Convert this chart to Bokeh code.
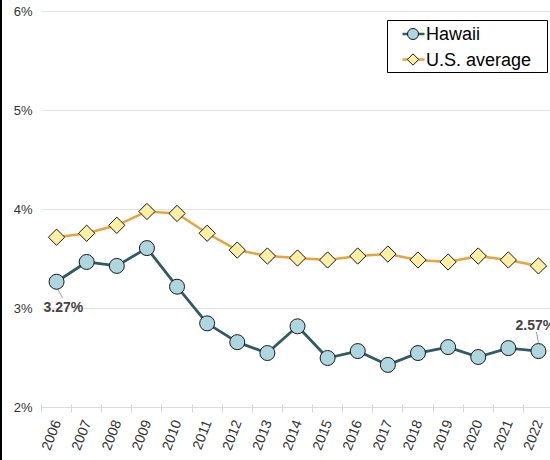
from bokeh.plotting import figure
from bokeh.models import (Range1d, FixedTicker, BoxAnnotation,
                          ColumnDataSource, PrintfTickFormatter)
from bokeh.core.properties import value
from bokeh.embed import file_html
from bokeh.resources import INLINE
import math

# ---------------- data ----------------
years = [str(y) for y in range(2006, 2023)]
hawaii = [3.27, 3.47, 3.43, 3.61, 3.22, 2.85, 2.66, 2.55, 2.82, 2.50, 2.57, 2.43,
          2.55, 2.61, 2.51, 2.60, 2.57]
us_avg = [3.72, 3.76, 3.84, 3.98, 3.96, 3.76, 3.59, 3.53, 3.51, 3.49, 3.53, 3.55,
          3.49, 3.47, 3.53, 3.49, 3.43]
y_ticks = [2, 3, 4, 5, 6]
series_names = ["Hawaii", "U.S. average"]
labeled_idx = [0, len(years) - 1]

# ---------------- style / layout constants ----------------
FONT = "Liberation Sans"
HI_LINE, HI_FILL = "#2f5b62", "#aed6df"
US_LINE, US_FILL = "#e8a33d", "#fdf0a5"
FRAME_L, FRAME_T, FRAME_B = 41, 8, 407
X_START, X_END = -0.5, 16.4
Y_START, Y_END = 2.0, 6.03
XS = (550 - FRAME_L) / (X_END - X_START)
YS = (FRAME_B - FRAME_T) / (Y_END - Y_START)


def px_x(px):
    return X_START + (px - FRAME_L) / XS


def px_y(py):
    return Y_END - (py - FRAME_T) / YS


xs = list(range(len(years)))
ROT = math.pi / 4
src = ColumnDataSource(dict(x=xs, hawaii=hawaii, us=us_avg, ang=[ROT] * len(years)))

p = figure(width=550, height=460, output_backend="svg", toolbar_location=None,
           x_range=Range1d(X_START, X_END), y_range=Range1d(Y_START, Y_END),
           min_border_left=FRAME_L, min_border_right=0, min_border_top=FRAME_T,
           min_border_bottom=460 - FRAME_B)
p.outline_line_color = None
p.background_fill_color = "white"
p.border_fill_color = "white"
p.border_fill_alpha = 0
p.styles = {"background": "linear-gradient(to right, #000 0px, #000 2px, #fff 2px)"}

# grid
p.xgrid.grid_line_color = None
p.ygrid.ticker = FixedTicker(ticks=y_ticks)
p.ygrid.grid_line_color = "#e3e3e3"
p.ygrid.grid_line_width = 1

# y axis
p.yaxis.ticker = FixedTicker(ticks=y_ticks)
p.yaxis.formatter = PrintfTickFormatter(format="%d%%")
p.yaxis.axis_line_color = None
p.yaxis.major_tick_line_color = None
p.yaxis.minor_tick_line_color = None
p.yaxis.major_tick_out = 0
p.yaxis.minor_tick_out = 0
p.yaxis.major_label_standoff = 9
p.yaxis.major_label_text_font = FONT
p.yaxis.major_label_text_font_size = "13px"
p.yaxis.major_label_text_color = "#333333"

# x axis
p.xaxis.ticker = FixedTicker(ticks=xs, minor_ticks=[i - 0.5 for i in range(len(years) + 1)])
p.xaxis.major_label_overrides = {i: y for i, y in enumerate(years)}
p.xaxis.axis_line_color = "#dcdcdc"
p.xaxis.major_tick_line_color = None
p.xaxis.major_tick_out = 0
p.xaxis.minor_tick_line_color = "#d6d6d6"
p.xaxis.minor_tick_in = 3
p.xaxis.minor_tick_out = 5
p.xaxis.major_label_orientation = 1.2
p.xaxis.major_label_standoff = 8
p.xaxis.major_label_text_font = FONT
p.xaxis.major_label_text_font_size = "14px"
p.xaxis.major_label_text_color = "#333333"

# series
p.line("x", "us", source=src, line_color=US_LINE, line_width=2.5)
p.scatter("x", "us", source=src, marker="square", angle="ang", angle_units="rad",
          size=11.5, fill_color=US_FILL, line_color="#1a1a1a", line_width=1)
p.line("x", "hawaii", source=src, line_color=HI_LINE, line_width=2.8)
p.scatter("x", "hawaii", source=src, marker="circle", size=15,
          fill_color=HI_FILL, line_color="#1a1a1a", line_width=1)

# data labels with connectors
lab_x = [xs[i] for i in labeled_idx]
lab_y = [hawaii[i] for i in labeled_idx]
lab_src = ColumnDataSource(dict(
    x=lab_x, y=lab_y, text=[f"{v:.2f}%" for v in lab_y],
    xo=[-13, -23], yo=[25, -26],
    x0=[lab_x[0] + 1 / XS, lab_x[1] - 2 / XS],
    y0=[lab_y[0] - 7 / YS, lab_y[1] + 19 / YS],
    x1=[lab_x[0] + 6 / XS, lab_x[1]],
    y1=[lab_y[0] - 16 / YS, lab_y[1] + 8 / YS],
))
p.segment("x0", "y0", "x1", "y1", source=lab_src, line_color="#9a9a9a", line_width=1,
          level="underlay")
p.text("x", "y", text="text", source=lab_src, x_offset="xo", y_offset="yo",
       text_font=value(FONT), text_font_size="14px", text_font_style="bold",
       text_color="#444444", text_align="left", text_baseline="middle")

# legend (box annotation + glyphs at screen-derived positions)
box = BoxAnnotation(left=px_x(387), right=px_x(547), top=px_y(20), bottom=px_y(72),
                    fill_color="white", fill_alpha=1, line_color="black", line_alpha=1,
                    line_width=1, level="underlay")
p.add_layout(box)
leg_rows = [33.5, 59]
leg = ColumnDataSource(dict(
    x0=[px_x(402)] * 2, x1=[px_x(424)] * 2, xm=[px_x(412.5)] * 2,
    xt=[px_x(425.5)] * 2, y=[px_y(r) for r in leg_rows],
    lc=[HI_LINE, US_LINE], fc=[HI_FILL, US_FILL], mk=["circle", "square"],
    sz=[11, 8], ang=[0, ROT], text=series_names,
))
p.segment("x0", "y", "x1", "y", source=leg, line_color="lc", line_width=2.5)
p.scatter("xm", "y", source=leg, marker="mk", size="sz", angle="ang", angle_units="rad",
          fill_color="fc", line_color="#1a1a1a", line_width=1)
p.text("xt", "y", text="text", source=leg, text_font=value(FONT), text_font_size="18px",
       text_color="#000000", text_align="left", text_baseline="middle")

open("out.html", "w").write(file_html(p, INLINE))
